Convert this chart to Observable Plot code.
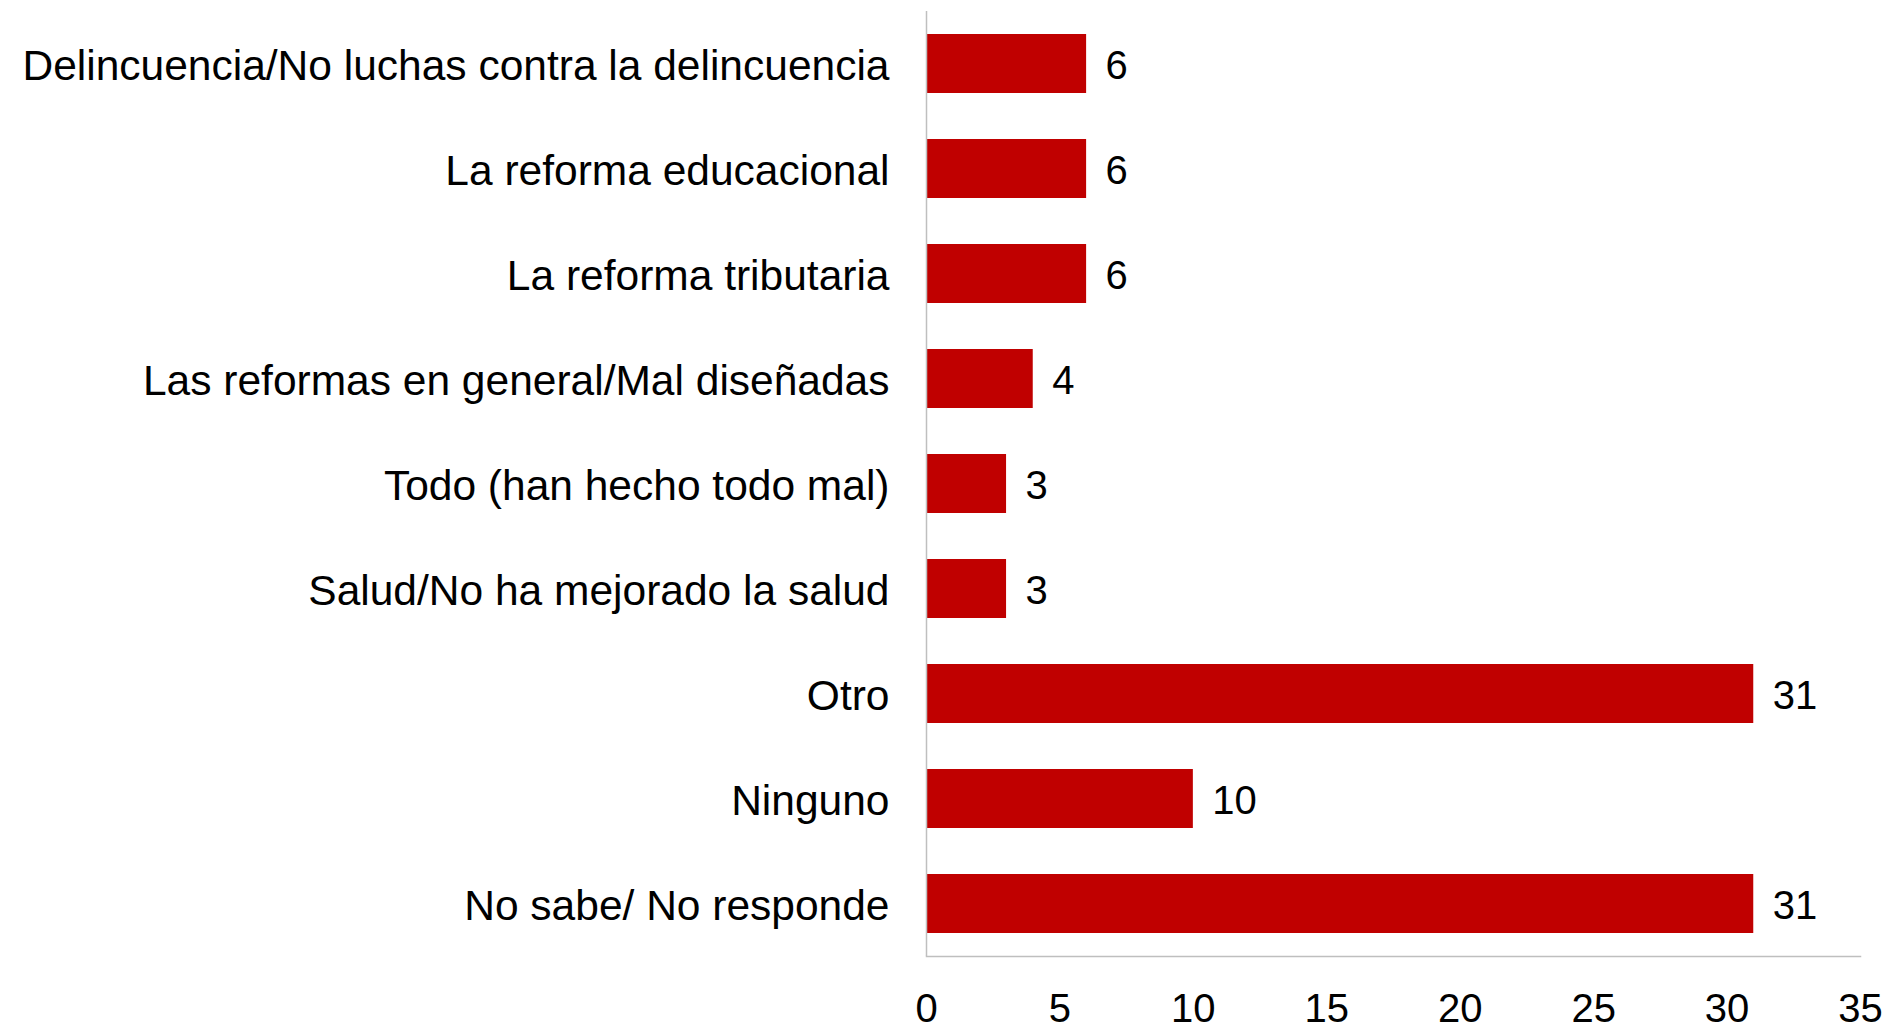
<!DOCTYPE html>
<html>
<head>
<meta charset="utf-8">
<script src="https://cdn.jsdelivr.net/npm/d3@7"></script>
<script src="https://cdn.jsdelivr.net/npm/@observablehq/plot@0.6"></script>
<style>
  html, body { margin: 0; padding: 0; background: #fff; }
</style>
</head>
<body>
<div id="chart"></div>
<script>
const categories = [
  "Delincuencia/No luchas contra la delincuencia",
  "La reforma educacional",
  "La reforma tributaria",
  "Las reformas en general/Mal diseñadas",
  "Todo (han hecho todo mal)",
  "Salud/No ha mejorado la salud",
  "Otro",
  "Ninguno",
  "No sabe/ No responde"
];
const values = [6, 6, 6, 4, 3, 3, 31, 10, 31];
const xTicks = [0, 5, 10, 15, 20, 25, 30, 35];

const data = categories.map((c, i) => ({category: c, value: values[i]}));

const chart = Plot.plot({
  width: 1895,
  height: 1031,
  marginLeft: 926,
  marginRight: 35,
  marginTop: 11,
  marginBottom: 75,
  style: {fontFamily: "'Liberation Sans', Arial, sans-serif", color: "#000", background: "#fff"},
  x: {domain: [0, 35], ticks: xTicks},
  y: {domain: categories, paddingInner: 0.44, paddingOuter: 0.22},
  marks: [
    Plot.barX(data, {x: "value", y: "category", fill: "#C00000"}),
    Plot.text(data, {x: "value", y: "category", text: d => String(d.value), textAnchor: "start", dx: 19, dy: 2, fontSize: 40, fill: "#000"}),
    Plot.axisY({tickSize: 0, tickPadding: 37, fontSize: 42.5, dy: 2, label: null}),
    Plot.axisX({tickSize: 0, tickPadding: 37, fontSize: 40, label: null, ticks: xTicks}),
    Plot.ruleX([0], {stroke: "#bfbfbf", strokeWidth: 1.5}),
    Plot.frame({anchor: "bottom", stroke: "#bfbfbf", strokeWidth: 1.5})
  ]
});
document.getElementById("chart").appendChild(chart);
</script>
</body>
</html>
